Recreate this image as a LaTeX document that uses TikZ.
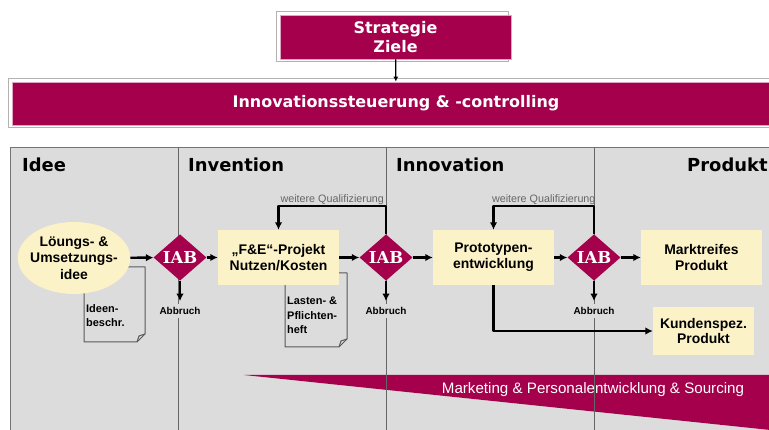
\documentclass[tikz,border=0pt]{standalone}
\usepackage{fontspec}
\setmainfont{Liberation Sans}
\newfontfamily\verdana{DejaVu Sans}
\newfontfamily\iabfont{DejaVu Serif}
\usetikzlibrary{shapes.geometric,arrows.meta}
\definecolor{iabred}{RGB}{165,0,75}
\definecolor{cream}{RGB}{252,242,199}
\definecolor{panelgray}{RGB}{220,220,220}
\begin{document}
\begin{tikzpicture}[>={Latex[length=7.5bp,width=7.5bp]},line join=bevel,
    bar/.style={rectangle,fill=iabred,draw=iabred!35,line width=0.8bp,text=white,align=center,inner sep=0pt,font=\verdana\bfseries\fontsize{16}{19}\selectfont},
    phase/.style={anchor=base west,inner sep=0pt,font=\verdana\bfseries\fontsize{18}{20}\selectfont},
    stepbox/.style={rectangle,fill=cream,minimum width=121bp,minimum height=55bp,align=center,inner sep=0pt,font=\bfseries\fontsize{14}{16}\selectfont},
    gate/.style={diamond,fill=iabred,text=white,minimum width=53bp,minimum height=45bp,inner sep=0pt,font=\iabfont\bfseries\fontsize{16.5}{16.5}\selectfont},
    stop/.style={fill=panelgray,inner sep=3bp,font=\bfseries\fontsize{10}{12}\selectfont},
    doctext/.style={anchor=north west,align=left,inner sep=0pt,font=\bfseries\fontsize{11}{14.5}\selectfont},
    docline/.style={draw=black!65,line width=1bp},
    qual/.style={above,inner sep=0.5bp,text=black!60,font=\fontsize{10.8}{12}\selectfont},
    flow/.style={->,line width=2.4bp},
]
    \useasboundingbox (0bp,0bp) rectangle (769bp,430bp);
    \clip (0bp,0bp) rectangle (769bp,430bp);
    %% head
    \draw [black!30,line width=0.6bp] (276bp,419bp) rectangle (508bp,369bp);
    \node (ziele) at (395.5bp,393bp) [bar,minimum width=231bp,minimum height=44bp] {Strategie\\Ziele};
    \draw [black!30,line width=0.6bp] (8bp,352bp) rectangle (780bp,303bp);
    \node (ctrl) at (396bp,326.5bp) [bar,minimum width=768bp,minimum height=43bp] {Innovationssteuerung \& -controlling};
    \draw [->,line width=1.2bp,>={Latex[length=5bp,width=5bp]}] (ziele) -- (ctrl);
    %% phases
    \draw [draw=black!55,fill=panelgray,line width=0.8bp] (10bp,283bp) rectangle (780bp,-5bp);
    \fill [iabred] (244bp,55bp) -- (780bp,55bp) -- (780bp,-1bp) -- cycle;
    \node (sourcing) at (593bp,40bp) [text=white,font=\fontsize{15.2}{15}\selectfont] {Marketing \& Personalentwicklung \& Sourcing};
    \foreach \x in {178,386,594}
        \draw [black!60,line width=0.8bp] (\x bp,283bp) -- (\x bp,0bp);
    \node (idee) at (22bp,258bp) [phase] {Idee};
    \node (invention) at (188bp,258bp) [phase] {Invention};
    \node (innovation) at (396bp,258bp) [phase] {Innovation};
    \node (produkt) at (687bp,258bp) [phase] {Produkt};
    %% documents
    \draw [docline] (84bp,163bp) -- (145bp,163bp) -- (145bp,96bp) -- (137bp,88bp) -- (84bp,88bp) -- cycle;
    \draw [docline] (145bp,96bp) -- (139bp,94bp) -- (137bp,88bp);
    \node (ideen) at (86bp,126bp) [doctext] {Ideen-\\beschr.};
    \draw [docline] (285bp,157bp) -- (347bp,157bp) -- (347bp,91bp) -- (339bp,83bp) -- (285bp,83bp) -- cycle;
    \draw [docline] (347bp,91bp) -- (341bp,89bp) -- (339bp,83bp);
    \node (lasten) at (287bp,133bp) [doctext] {Lasten- \&\\Pflichten-\\heft};
    %% process
    \node (idea) at (74bp,172bp) [ellipse,fill=cream,minimum height=72bp,inner xsep=-4bp,inner ysep=0pt,align=center,font=\bfseries\fontsize{14}{16.5}\selectfont] {Löungs- \&\\Umsetzungs-\\idee};
    \node (d1) at (180bp,172.5bp) [gate] {IAB};
    \node (fe) at (278.5bp,172.5bp) [stepbox] {„F\&E“-Projekt\\Nutzen/Kosten};
    \node (d2) at (386bp,172.5bp) [gate] {IAB};
    \node (proto) at (493.5bp,172.5bp) [stepbox] {Prototypen-\\entwicklung};
    \node (d3) at (594bp,172.5bp) [gate] {IAB};
    \node (markt) at (701.5bp,172.5bp) [stepbox] {Marktreifes\\Produkt};
    \node (kunden) at (703.5bp,99bp) [stepbox,minimum width=101bp,minimum height=48bp] {Kundenspez.\\Produkt};
    \node (stop1) at (180bp,119bp) [stop] {Abbruch};
    \node (stop2) at (386bp,119bp) [stop] {Abbruch};
    \node (stop3) at (594bp,119bp) [stop] {Abbruch};
    \draw [flow] (idea) -- (d1);
    \draw [flow] (d1) -- (fe);
    \draw [flow] (fe) -- (d2);
    \draw [flow] (d2) -- (proto);
    \draw [flow] (proto) -- (d3);
    \draw [flow] (d3) -- (markt);
    \draw [flow,shorten >=3bp] (d1) -- (stop1);
    \draw [flow,shorten >=3bp] (d2) -- (stop2);
    \draw [flow,shorten >=3bp] (d3) -- (stop3);
    \draw [flow] (d2.north) -- ++(0,28bp) -| node [qual,pos=0.25] {weitere Qualifizierung} (fe.north);
    \draw [flow] (d3.north) -- ++(0,28bp) -| node [qual,pos=0.25] {weitere Qualifizierung} (proto.north);
    \draw [flow] (proto.south) |- (kunden.west);
    %
\end{tikzpicture}
\end{document}
